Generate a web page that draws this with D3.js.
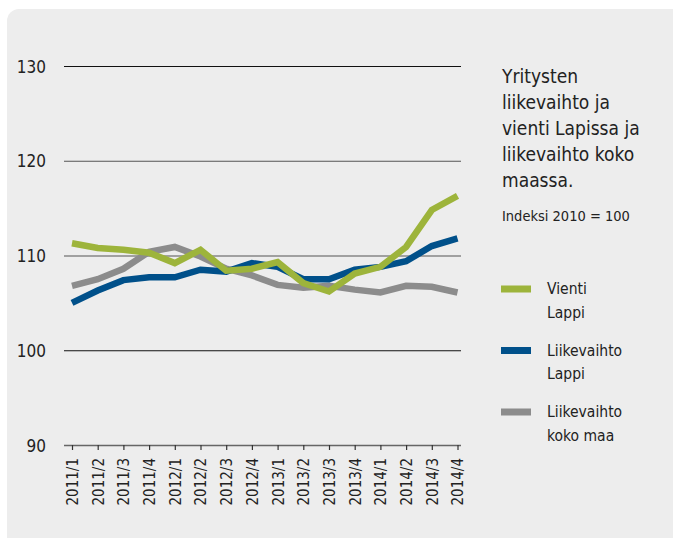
<!DOCTYPE html>
<html>
<head>
<meta charset="utf-8">
<script src="https://cdn.jsdelivr.net/npm/d3@7"></script>
<style>
  body { margin: 0; background: #fff; }
  svg text { font-family: "Liberation Sans Narrow", "DejaVu Sans Condensed", sans-serif; fill: #222; }
</style>
</head>
<body>
<svg></svg>
<script>
// quarters and index values (2010 = 100)
var quarters = ["2011/1","2011/2","2011/3","2011/4","2012/1","2012/2","2012/3","2012/4",
                "2013/1","2013/2","2013/3","2013/4","2014/1","2014/2","2014/3","2014/4"];
var vientiLappi = [111.3,110.8,110.6,110.3,109.2,110.6,108.4,108.6,109.3,107.1,106.2,108.1,108.8,110.9,114.8,116.3];
var liikevaihtoLappi = [105.0,106.3,107.4,107.7,107.7,108.5,108.3,109.2,108.8,107.5,107.5,108.5,108.8,109.4,111.0,111.8];
var liikevaihtoKokoMaa = [106.8,107.5,108.6,110.4,110.9,109.9,108.6,107.9,106.9,106.6,106.8,106.4,106.1,106.8,106.7,106.1];
var yTicks = [90,100,110,120,130];

var titleLines = ["Yritysten","liikevaihto ja","vienti Lapissa ja","liikevaihto koko","maassa."];
var subTitle = "Indeksi 2010 = 100";
var legendNames = [["Vienti","Lappi"],["Liikevaihto","Lappi"],["Liikevaihto","koko maa"]];

var svgWidth = 673, svgHeight = 538;
var svg = d3.select("svg").attr("width", svgWidth).attr("height", svgHeight);

// background panel
svg.append("rect")
    .attr("x", 7).attr("y", 9)
    .attr("width", 700).attr("height", 560)
    .attr("rx", 12)
    .attr("fill", "#ededed");

var plotLeft = 64, plotRight = 461;

var xScale = d3.scalePoint()
    .domain(quarters)
    .range([72, 457.5]);

var yScale = d3.scaleLinear()
    .domain([90, 130])
    .range([445, 66]);

// horizontal grid lines + y labels
var y_axis = d3.axisLeft(yScale)
    .tickValues(yTicks)
    .tickSize(-(plotRight - plotLeft))
    .tickFormat(d3.format("d"));

var gy = svg.append("g")
    .attr("transform", "translate(" + plotLeft + ",0)")
    .call(y_axis);
gy.select(".domain").remove();
gy.selectAll(".tick line")
    .attr("stroke", function(d){ return d == 90 ? "#666" : (d == 130 || d == 100 ? "#111" : "#555"); })
    .attr("stroke-width", function(d){ return d == 90 ? 1.5 : 1.2; });
gy.selectAll(".tick text")
    .attr("font-size", "17px")
    .attr("fill", "#222")
    .attr("x", 46 - plotLeft)
    .attr("dy", "0.36em");

// x axis ticks and labels
var x_axis = d3.axisBottom(xScale)
    .tickSize(5)
    .tickSizeOuter(0);

var gx = svg.append("g")
    .attr("transform", "translate(0,445)")
    .call(x_axis);
gx.select(".domain").remove();
gx.selectAll(".tick line").attr("stroke", "#333").attr("stroke-width", 1.2);
gx.selectAll(".tick text")
    .attr("font-size", "15px")
    .attr("fill", "#222")
    .attr("text-anchor", "end")
    .attr("transform", "rotate(-90)")
    .attr("x", -13)
    .attr("y", 0)
    .attr("dy", "0.36em");

// lines
var series = [
    {values: liikevaihtoKokoMaa, color: "#8c8c8c"},
    {values: liikevaihtoLappi, color: "#00508a"},
    {values: vientiLappi, color: "#9db43b"}
];

var line = d3.line()
    .x(function(d, i){ return xScale(quarters[i]); })
    .y(function(d){ return yScale(d); });

svg.selectAll("path.series")
    .data(series)
    .enter()
    .append("path")
    .attr("class", "series")
    .attr("d", function(d){ return line(d.values); })
    .attr("fill", "none")
    .attr("stroke", function(d){ return d.color; })
    .attr("stroke-width", 6.5)
    .attr("stroke-linejoin", "miter");

// title
svg.selectAll("text.title")
    .data(titleLines)
    .enter()
    .append("text")
    .attr("class", "title")
    .attr("x", 502)
    .attr("y", function(d, i){ return 83 + i * 26; })
    .attr("font-size", "19px")
    .text(function(d){ return d; });

svg.append("text")
    .attr("x", 502)
    .attr("y", 221)
    .attr("font-size", "14.5px")
    .text(subTitle);

// legend
var legendColors = ["#9db43b", "#00508a", "#8c8c8c"];
var legend = svg.selectAll("g.legend")
    .data(legendNames)
    .enter()
    .append("g")
    .attr("class", "legend")
    .attr("transform", function(d, i){ return "translate(501," + (289 + i * 61.5) + ")"; });

legend.append("rect")
    .attr("x", 0).attr("y", -3.5)
    .attr("width", 30).attr("height", 7)
    .attr("fill", function(d, i){ return legendColors[i]; });

legend.selectAll("text")
    .data(function(d){ return d; })
    .enter()
    .append("text")
    .attr("x", 46)
    .attr("y", function(d, i){ return 5 + i * 23.5; })
    .attr("font-size", "15.5px")
    .text(function(d){ return d; });
</script>
</body>
</html>
